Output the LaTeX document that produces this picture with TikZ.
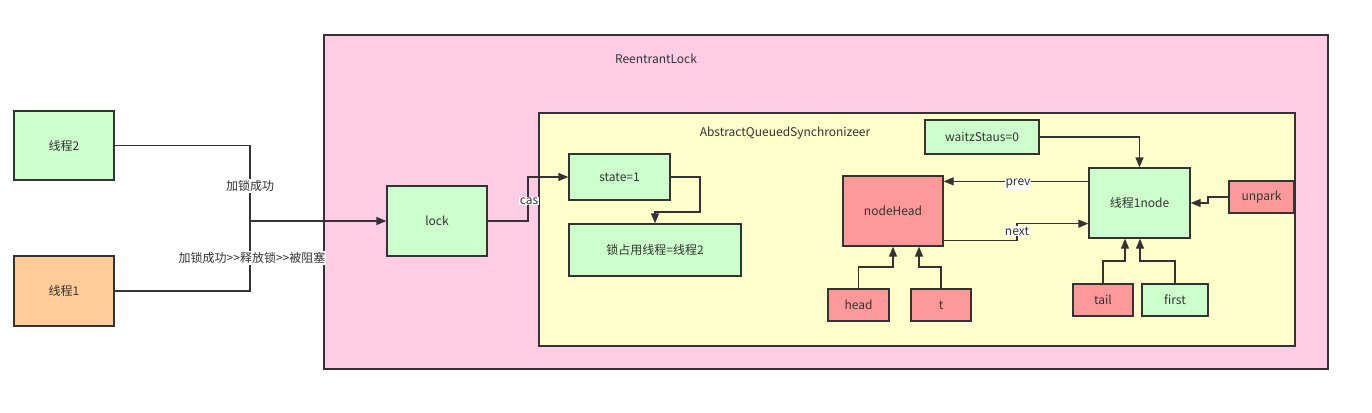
\documentclass[tikz,border=0pt]{standalone}
\usepackage{fontspec}
\setmainfont{Noto Sans CJK SC}
\usetikzlibrary{arrows.meta,calc}
\definecolor{lgreen}{HTML}{CCFFCC}
\definecolor{lorange}{HTML}{FFCC99}
\definecolor{lpink}{HTML}{FFCCE6}
\definecolor{lyellow}{HTML}{FFFFCC}
\definecolor{lred}{HTML}{FF9999}
\definecolor{ink}{HTML}{333333}
\begin{document}
\begin{tikzpicture}[x=1pt,y=-1pt,
  font=\fontsize{12}{14}\selectfont,
  box/.style={draw=ink,line width=1.3pt,inner sep=0pt,text=ink},
  frame/.style={draw=ink,line width=1.3pt},
  wire/.style={draw=ink,line width=1.3pt},
  arr/.style={wire,-{Triangle[length=10pt,width=8pt]}},
  lbl/.style={fill=white,inner sep=1pt,text=ink}]
\fill[white] (0,0) rectangle (1372,412);
\useasboundingbox (0,0) rectangle (1372,412);
% containers
\draw[frame,fill=lpink] (324,35) rectangle (1328,369);
\node[text=ink] (rl) at (656,59) {ReentrantLock};
\draw[frame,fill=lyellow] (539,113) rectangle (1295,346);
\node[text=ink] (aqs) at (785,133) {AbstractQueuedSynchronizeer};
% left threads
\node[box,fill=lgreen,minimum width=100,minimum height=69] (t2) at (64,145.5) {线程2};
\node[box,fill=lorange,minimum width=100,minimum height=70] (t1) at (64,291) {线程1};
\node[box,fill=lgreen,minimum width=100,minimum height=70] (lock) at (437,221) {lock};
\coordinate (j) at (250,221);
\draw[wire] (t2.east) -| (j);
\draw[wire] (t1.east) -| (j);
\draw[arr] (j) -- (lock.west);
\node[lbl] (l1) at (250,186) {加锁成功};
\node[lbl] (l2) at (252,258) {加锁成功>{}>释放锁>{}>被阻塞};
% state
\node[box,fill=lgreen,minimum width=101,minimum height=46] (state) at (619.5,177) {state=1};
\node[box,fill=lgreen,minimum width=172,minimum height=52] (occ) at (655,250) {锁占用线程=线程2};
\coordinate (cx) at (528,200);
\draw[arr] (lock.east) -| (cx) |- (state.west);
\node[lbl] (cas) at (529,201) {cas};
\coordinate (sx) at (700,212);
\draw[arr] (state.east) -| (sx) -| (occ.north);
% queue
\node[box,fill=lgreen,minimum width=114,minimum height=34] (wait) at (982,137) {waitzStaus=0};
\node[box,fill=lgreen,minimum width=101,minimum height=70] (n1) at (1139.5,203) {线程1node};
\node[box,fill=lred,minimum width=100,minimum height=70] (nh) at (893,211) {nodeHead};
\draw[arr] (wait.east) -| (n1.north);
\draw[arr] ([yshift=-14pt]n1.north west) coordinate (p1) -- (p1 -| nh.east);
\node[lbl] (prev) at (1018,184) {prev};
\coordinate (nx) at (1017,231);
\draw[arr] ([yshift=6pt]nh.south east) -| (nx) |- ([yshift=15pt]n1.south west);
\node[lbl] (next) at (nx) {next};
% pointers
\node[box,fill=lred,minimum width=61,minimum height=32] (head) at (858.5,305) {head};
\node[box,fill=lred,minimum width=60,minimum height=32] (t) at (941,305) {t};
\node[box,fill=lred,minimum width=60,minimum height=32] (tail) at (1103,300) {tail};
\node[box,fill=lgreen,minimum width=66,minimum height=32] (first) at (1175,300) {first};
\node[box,fill=lred,minimum width=65,minimum height=32] (unpark) at (1261.5,197) {unpark};
\coordinate (hc) at (893,267);
\draw[arr] (head.north) |- (hc) -- (hc |- nh.south);
\coordinate (tc) at (919,267);
\draw[arr] (t.north) |- (tc) -- (tc |- nh.south);
\coordinate (tlc) at (1125,261);
\draw[arr] (tail.north) |- (tlc) -- (tlc |- n1.south);
\coordinate (fc) at (1140,261);
\draw[arr] (first.north) |- (fc) -- (fc |- n1.south);
\coordinate (uc) at (1208,203);
\draw[arr] (unpark.west) -| (uc) -- (uc -| n1.east);
\end{tikzpicture}
\end{document}
